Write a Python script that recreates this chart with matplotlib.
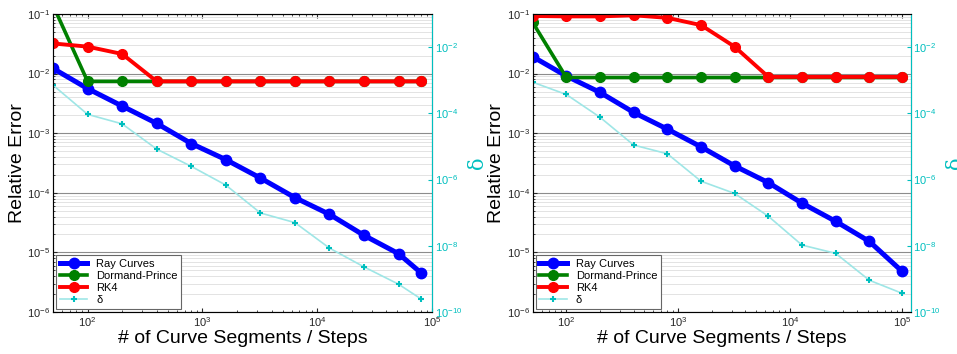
import matplotlib
matplotlib.use('Agg')
import matplotlib.pyplot as plt
import numpy as np

plt.rcParams['font.family'] = ['Liberation Sans', 'DejaVu Sans']
plt.rcParams['mathtext.default'] = 'regular'

# number of curve segments / steps
steps_left = [50, 100, 200, 400, 800, 1600, 3200, 6400, 12800, 25600, 51200, 80000]
steps_right = [50, 100, 200, 400, 800, 1600, 3200, 6400, 12800, 25600, 51200, 100000]

# left panel
ray_left = [1.22e-2, 5.6e-3, 2.85e-3, 1.46e-3, 6.7e-4, 3.6e-4, 1.77e-4, 8.3e-5, 4.35e-5, 1.93e-5, 9.5e-6, 4.56e-6]
dp_left = [0.14, 7.4e-3, 7.4e-3, 7.4e-3, 7.4e-3, 7.4e-3, 7.4e-3, 7.4e-3, 7.4e-3, 7.4e-3, 7.4e-3, 7.4e-3]
rk4_left = [3.2e-2, 2.83e-2, 2.13e-2, 7.4e-3, 7.4e-3, 7.4e-3, 7.4e-3, 7.4e-3, 7.4e-3, 7.4e-3, 7.4e-3, 7.4e-3]
delta_left = [7.1e-4, 9.3e-5, 4.8e-5, 8.3e-6, 2.5e-6, 6.8e-7, 9.8e-8, 5.0e-8, 8.5e-9, 2.3e-9, 6.9e-10, 2.5e-10]

# right panel
ray_right = [1.92e-2, 9.1e-3, 4.83e-3, 2.23e-3, 1.17e-3, 5.9e-4, 2.82e-4, 1.48e-4, 6.7e-5, 3.32e-5, 1.53e-5, 4.85e-6]
dp_right = [7.2e-2, 8.6e-3, 8.6e-3, 8.6e-3, 8.6e-3, 8.6e-3, 8.6e-3, 8.6e-3, 8.6e-3, 8.6e-3, 8.6e-3, 8.6e-3]
rk4_right = [9.25e-2, 9.1e-2, 9.1e-2, 9.5e-2, 8.6e-2, 6.5e-2, 2.82e-2, 8.8e-3, 8.8e-3, 8.8e-3, 8.8e-3, 8.8e-3]
delta_right = [8.7e-4, 3.7e-4, 7.6e-5, 1.1e-5, 6.0e-6, 8.9e-7, 3.8e-7, 7.8e-8, 1.05e-8, 5.9e-9, 9.1e-10, 3.7e-10]

cyan = (0.0, 0.75, 0.75)
tick_gray = (0.15, 0.15, 0.15)


def draw_panel(rect, steps, ray, dp, rk4, delta, xmax):
    ax = fig.add_axes(rect)
    ax.plot(steps, ray, color='blue', lw=3.6, marker='o', ms=7.5, label='Ray Curves')
    ax.plot(steps, dp, color=(0, 0.5, 0), lw=2.6, marker='o', ms=7, label='Dormand-Prince')
    ax.plot(steps, rk4, color='red', lw=2.8, marker='o', ms=7, label='RK4')
    ax.set_xscale('log')
    ax.set_yscale('log')
    ax.set_xlim(50, xmax)
    ax.set_ylim(1e-6, 1e-1)
    ax.grid(True, which='major', axis='y', color=(0.55, 0.55, 0.55), lw=0.8)
    ax.grid(True, which='minor', axis='y', color=(0.87, 0.87, 0.87), lw=0.6)
    ax.set_axisbelow(True)
    ax.tick_params(which='both', direction='in', top=True, right=False,
                   labelsize=8, colors=tick_gray, length=3, pad=2)
    ax.tick_params(which='minor', length=1.5)
    for s in ax.spines.values():
        s.set_color((0.4, 0.4, 0.4))
    ax.set_xlabel('# of Curve Segments / Steps', fontsize=14, labelpad=1)
    ax.set_ylabel('Relative Error', fontsize=14, labelpad=1)

    ax2 = ax.twinx()
    ax2.plot(steps, delta, color=(0.62, 0.9, 0.9), lw=1.2, marker='+', ms=5,
             mec=cyan, mew=1.5, label='δ')
    ax2.set_yscale('log')
    ax2.set_ylim(1e-10, 1e-1)
    ax2.set_yticks([1e-10, 1e-8, 1e-6, 1e-4, 1e-2])
    ax2.yaxis.set_minor_locator(matplotlib.ticker.NullLocator())
    ax2.tick_params(axis='y', direction='in', labelsize=8, colors=cyan, length=3, pad=2)
    ax2.spines['right'].set_color(cyan)
    ax2.set_ylabel('δ', color=cyan, fontsize=15, family='serif', labelpad=4)

    h1, l1 = ax.get_legend_handles_labels()
    h2, l2 = ax2.get_legend_handles_labels()
    leg = ax2.legend(h1 + h2, l1 + l2, loc='lower left', fontsize=8, fancybox=False,
                     framealpha=1, edgecolor=(0.4, 0.4, 0.4), handlelength=2.5,
                     borderaxespad=0.3, labelspacing=0.2, borderpad=0.3)
    leg.get_frame().set_linewidth(0.8)
    return ax


fig = plt.figure(figsize=(9.57, 3.54), dpi=100)
draw_panel([0.0554, 0.1186, 0.396, 0.842], steps_left, ray_left, dp_left, rk4_left, delta_left, 1e5)
draw_panel([0.5566, 0.1186, 0.395, 0.842], steps_right, ray_right, dp_right, rk4_right, delta_right, 1.2e5)

fig.savefig('out.png', dpi=100)
